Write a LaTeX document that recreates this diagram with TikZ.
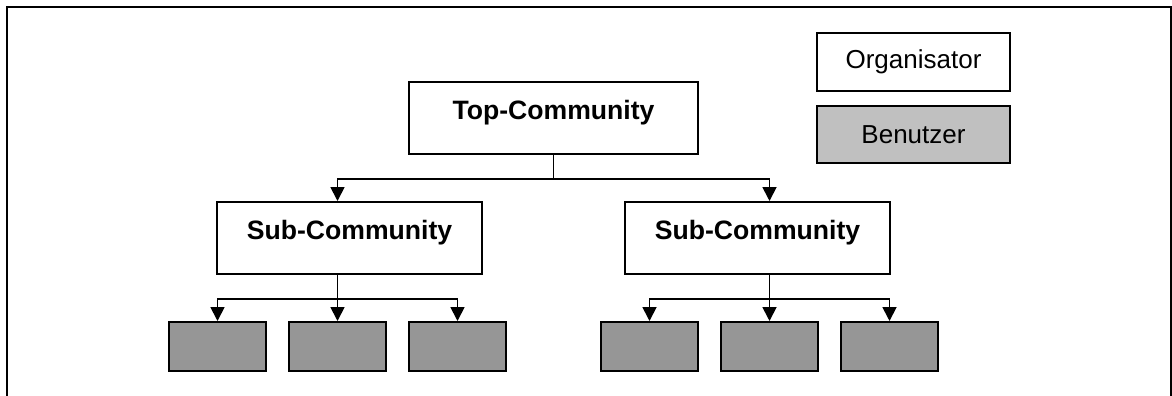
\documentclass[tikz,border=0pt]{standalone}
\usepackage{fontspec}
\setmainfont{Liberation Sans}
\usetikzlibrary{arrows.meta}
\definecolor{usergray}{HTML}{969696}
\definecolor{keygray}{HTML}{C0C0C0}
\begin{document}
\begin{tikzpicture}[x=0.5pt,y=-0.5pt,line join=miter,>={Triangle[length=7pt,width=7pt]}]
	\tikzset{every node/.style={font=\fontsize{13}{15}\selectfont,inner sep=0pt},
		comm/.style={draw,line width=1pt,fill=white,minimum width=132.5pt,minimum height=36pt,font=\fontsize{13.3}{15}\selectfont\bfseries,text height=9.5pt,text depth=8pt},
		user/.style={draw,line width=1pt,fill=usergray,minimum width=48.5pt,minimum height=24.5pt},
		key/.style={draw,line width=0.8pt,minimum width=96.5pt,minimum height=29pt},
		link/.style={line width=0.9pt}}
	\useasboundingbox (0,0) rectangle (1172,396);
	\draw[line width=1.3pt] (7,400)--(7,7)--(1171,7)--(1171,400);
	% legende
	\node[key] (orga) at (913.5,62) {Organisator};
	\node[key,fill=keygray,minimum height=28.5pt] (bnutz) at (913.5,134.5) {Benutzer};
	% hierarchie
	\node[comm,minimum width=144.5pt] (top) at (553.5,118) {Top-Community};
	\node[comm] (subL) at (349.5,238) {Sub-Community};
	\node[comm] (subR) at (757.5,238) {Sub-Community};
	\node[user] (uL1) at (217.5,346.5) {};
	\node[user] (uL2) at (337.5,346.5) {};
	\node[user] (uL3) at (457.5,346.5) {};
	\node[user] (uR1) at (649.5,346.5) {};
	\node[user] (uR2) at (769.5,346.5) {};
	\node[user] (uR3) at (889.5,346.5) {};
	\draw[link,->] (top.south)--++(0,24)-|(subL.north -| uL2.north);
	\draw[link,->] (top.south)--++(0,24)-|(subR.north -| uR2.north);
	\draw[link,->] (subL.south -| uL2.north)--(uL2.north);
	\draw[link,->] (subL.south -| uL2.north)--++(0,24)-|(uL1.north);
	\draw[link,->] (subL.south -| uL2.north)--++(0,24)-|(uL3.north);
	\draw[link,->] (subR.south -| uR2.north)--(uR2.north);
	\draw[link,->] (subR.south -| uR2.north)--++(0,24)-|(uR1.north);
	\draw[link,->] (subR.south -| uR2.north)--++(0,24)-|(uR3.north);
\end{tikzpicture}
\end{document}
